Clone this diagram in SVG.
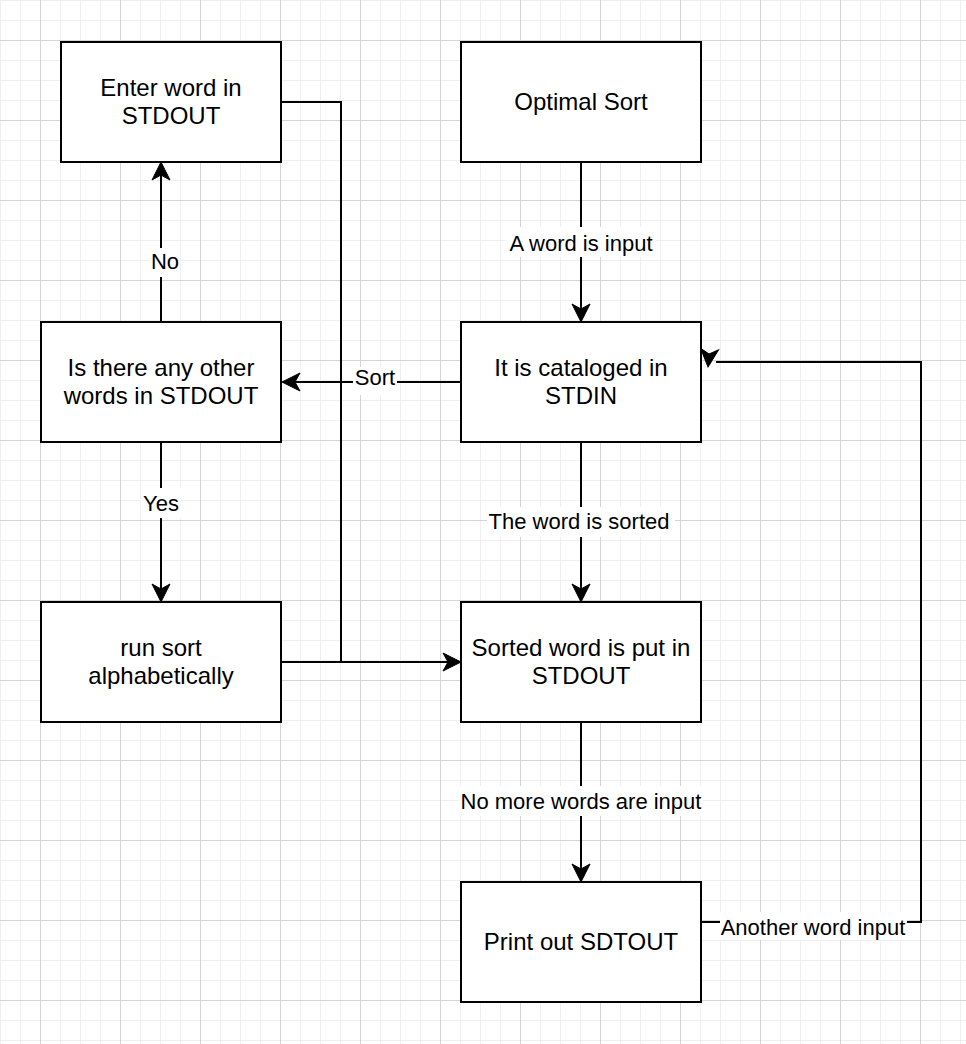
<svg xmlns="http://www.w3.org/2000/svg" xmlns:xlink="http://www.w3.org/1999/xlink" width="966" height="1044" viewBox="0 0 966 1044">
<style>
.box{fill:#ffffff;stroke:#000000;stroke-width:2}
.bt{font-family:"Liberation Sans",Arial,Helvetica,sans-serif;font-size:24px;fill:#000000;text-anchor:middle}
.el{font-family:"Liberation Sans",Arial,Helvetica,sans-serif;font-size:22px;fill:#000000;text-anchor:middle}
.ln{fill:none;stroke:#000000;stroke-width:2}
.lb{fill:#ffffff}
.ah{fill:#000000;stroke:#000000;stroke-width:1;stroke-linejoin:miter}
</style>
<defs>
<pattern id="minor" patternUnits="userSpaceOnUse" x="0" y="0" width="20" height="20">
<path d="M0.5 0V20M0 0.5H20" stroke="#efefef" stroke-width="1" fill="none"/>
</pattern>
<pattern id="major" patternUnits="userSpaceOnUse" x="0" y="0" width="80" height="80">
<path d="M40.5 0V80M0 40.5H80" stroke="#d4d4d4" stroke-width="1" fill="none"/>
</pattern>
<path id="ah" d="M0 0L-18 -9L-13 0L-18 9Z"/>
</defs>
<rect x="0" y="0" width="966" height="1044" fill="#ffffff"/>
<rect x="0" y="0" width="966" height="1044" fill="url(#minor)"/>
<rect x="0" y="0" width="966" height="1044" fill="url(#major)"/>

<g id="connectors">
<path class="ln" d="M581 162V312"/>
<use href="#ah" class="ah" transform="translate(581,322) rotate(90)"/>
<path class="ln" d="M581 442V592"/>
<use href="#ah" class="ah" transform="translate(581,602) rotate(90)"/>
<path class="ln" d="M581 722V872"/>
<use href="#ah" class="ah" transform="translate(581,882) rotate(90)"/>
<path class="ln" d="M461 382H292"/>
<use href="#ah" class="ah" transform="translate(282,382) rotate(180)"/>
<path class="ln" d="M161 322V172"/>
<use href="#ah" class="ah" transform="translate(161,162) rotate(-90)"/>
<path class="ln" d="M161 442V592"/>
<use href="#ah" class="ah" transform="translate(161,602) rotate(90)"/>
<path class="ln" d="M281 662H451"/>
<path class="ln" d="M281 102H341V662"/>
<use href="#ah" class="ah" transform="translate(461,662)"/>
<path class="ln" d="M701 922H921V362H716"/>
<use href="#ah" class="ah" transform="translate(708,367) rotate(95)"/>

<rect class="lb" x="506" y="227" width="150" height="30"/>
<text class="el" x="581" y="251">A word is input</text>
<rect class="lb" x="487" y="507" width="188" height="30"/>
<text class="el" x="579" y="529">The word is sorted</text>
<rect class="lb" x="459" y="786" width="244" height="30"/>
<text class="el" x="581" y="809">No more words are input</text>
<rect class="lb" x="353" y="367" width="44" height="28"/>
<text class="el" x="375" y="385">Sort</text>
<rect class="lb" x="150" y="248" width="30" height="29"/>
<text class="el" x="165" y="269">No</text>
<rect class="lb" x="141" y="488" width="40" height="30"/>
<text class="el" x="161" y="511">Yes</text>
<rect class="lb" x="720" y="912" width="187" height="28"/>
<text class="el" x="813" y="935">Another word input</text>
</g>

<g id="enter-word">
<rect class="box" x="61" y="42" width="220" height="120"/>
<text class="bt" x="171" y="96">Enter word in</text>
<text class="bt" x="171" y="124">STDOUT</text>
</g>
<g id="optimal-sort">
<rect class="box" x="461" y="42" width="240" height="120"/>
<text class="bt" x="581" y="110">Optimal Sort</text>
</g>
<g id="any-other-words">
<rect class="box" x="41" y="322" width="240" height="120"/>
<text class="bt" x="161" y="376">Is there any other</text>
<text class="bt" x="161" y="404">words in STDOUT</text>
</g>
<g id="cataloged">
<rect class="box" x="461" y="322" width="240" height="120"/>
<text class="bt" x="581" y="376">It is cataloged in</text>
<text class="bt" x="581" y="404">STDIN</text>
</g>
<g id="run-sort">
<rect class="box" x="41" y="602" width="240" height="120"/>
<text class="bt" x="161" y="656">run sort</text>
<text class="bt" x="161" y="684">alphabetically</text>
</g>
<g id="sorted-word">
<rect class="box" x="461" y="602" width="240" height="120"/>
<text class="bt" x="581" y="656">Sorted word is put in</text>
<text class="bt" x="581" y="684">STDOUT</text>
</g>
<g id="print-out">
<rect class="box" x="461" y="882" width="240" height="120"/>
<text class="bt" x="581" y="950">Print out SDTOUT</text>
</g>
</svg>
